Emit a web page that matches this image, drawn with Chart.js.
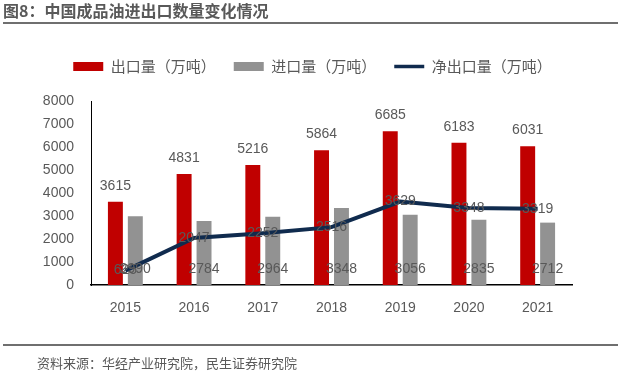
<!DOCTYPE html>
<html>
<head>
<meta charset="utf-8">
<script src="https://cdn.jsdelivr.net/npm/chart.js@4"></script>
<style>
  body { margin: 0; background: #fff; }
  #wrap { position: relative; width: 643px; height: 383px; overflow: hidden; font-family: "Noto Sans CJK SC", sans-serif; }
  #chart { position: absolute; left: 0; top: 0; }
  .title { position: absolute; left: 3px; top: -2px; font-size: 16px; font-weight: bold; color: #595959; white-space: nowrap; }
  .rule { position: absolute; left: 3px; width: 615px; height: 2px; background: #6f6f6f; }
  .note { position: absolute; left: 37px; top: 353px; font-size: 13px; color: #595959; white-space: nowrap; }
</style>
</head>
<body>
<div id="wrap">
  <canvas id="chart" width="643" height="383"></canvas>
  <div class="title">图8：中国成品油进出口数量变化情况</div>
  <div class="rule" style="top:22px"></div>
  <div class="rule" style="top:344px"></div>
  <div class="note">资料来源：华经产业研究院，民生证券研究院</div>
</div>
<script>
const years = ["2015", "2016", "2017", "2018", "2019", "2020", "2021"];
const exportVol = [3615, 4831, 5216, 5864, 6685, 6183, 6031];
const importVol = [2990, 2784, 2964, 3348, 3056, 2835, 2712];
const netExport = [625, 2047, 2252, 2516, 3629, 3348, 3319];

const grey = '#595959';

// value labels, placed from the drawn elements
const valueLabels = {
  id: 'valueLabels',
  afterDatasetsDraw(chart) {
    const ctx = chart.ctx;
    ctx.save();
    ctx.font = '14px "Liberation Sans", Arial, sans-serif';
    ctx.fillStyle = grey;
    ctx.textAlign = 'center';
    ctx.textBaseline = 'middle';
    chart.data.datasets.forEach((ds, di) => {
      chart.getDatasetMeta(di).data.forEach((el, i) => {
        const v = ds.data[i];
        if (di === 0) ctx.fillText(v, el.x, el.y - 16);
        else if (di === 1) ctx.fillText(v, el.x, el.base - 16);
        else ctx.fillText(v, el.x, el.y);
      });
    });
    ctx.restore();
  }
};

// extra space between legend and plot, and nudge legend right a bit
const legendGap = {
  id: 'legendGap',
  afterInit(chart) {
    const lg = chart.legend;
    const fit = lg.fit.bind(lg);
    lg.fit = function () { fit(); this.height += 17; };
  },
  afterLayout(chart) {
    chart.legend.left += 13;
  }
};

new Chart(document.getElementById('chart'), {
  data: {
    labels: years,
    datasets: [
      { type: 'bar', label: '出口量（万吨）', data: exportVol, backgroundColor: '#C00000',
        barPercentage: 0.75, categoryPercentage: 0.58 },
      { type: 'bar', label: '进口量（万吨）', data: importVol, backgroundColor: '#929292',
        barPercentage: 0.75, categoryPercentage: 0.58 },
      { type: 'line', label: '净出口量（万吨）', data: netExport, borderColor: '#102B4E',
        backgroundColor: '#102B4E', borderWidth: 4, pointRadius: 0, tension: 0, order: -1 }
    ]
  },
  options: {
    responsive: false,
    devicePixelRatio: 1,
    animation: false,
    layout: { padding: { top: 41, left: 40, right: 71, bottom: 68 } },
    plugins: {
      tooltip: { enabled: false },
      legend: {
        position: 'top',
        labels: {
          usePointStyle: true,
          pointStyleWidth: 30,
          boxHeight: 9,
          padding: 18,
          color: grey,
          font: { family: '"Noto Sans CJK SC", sans-serif', size: 15 },
          generateLabels(chart) {
            return chart.data.datasets.map((ds, i) => ({
              text: ds.label,
              datasetIndex: i,
              fillStyle: ds.type === 'line' ? ds.borderColor : ds.backgroundColor,
              strokeStyle: ds.type === 'line' ? ds.borderColor : ds.backgroundColor,
              lineWidth: ds.type === 'line' ? 3.5 : 0,
              pointStyle: ds.type === 'line' ? 'line' : 'rect',
              fontColor: grey
            }));
          }
        }
      }
    },
    scales: {
      x: {
        grid: { display: false, drawTicks: false },
        border: { display: true, color: '#000', width: 1.5 },
        ticks: { color: grey, padding: 15, font: { family: '"Liberation Sans", Arial, sans-serif', size: 14 } },
        afterFit(s) { s.height = 30; }
      },
      y: {
        min: 0,
        max: 8000,
        grid: { display: false, drawTicks: false },
        border: { display: true, color: '#000', width: 1 },
        ticks: { stepSize: 1000, color: grey, padding: 17, callback: v => String(v),
                 font: { family: '"Liberation Sans", Arial, sans-serif', size: 14 } },
        afterFit(s) { s.width = 51; }
      }
    }
  },
  plugins: [valueLabels, legendGap]
});
</script>
</body>
</html>
